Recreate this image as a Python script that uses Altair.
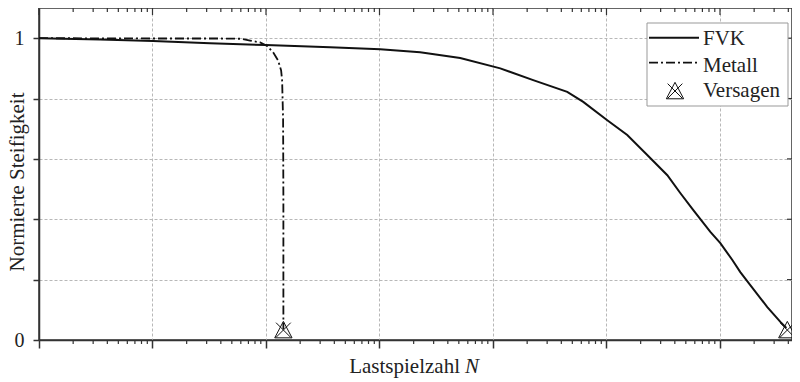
import altair as alt
import pandas as pd

# ---------------- data ----------------
fvk_n = [1, 3.45, 10.1, 32.1, 100, 367, 1014, 2280, 5140, 11590, 22600, 45100,
         62400, 101600, 152400, 228600, 343600, 446700, 582100, 822400, 1007000,
         1285000, 1510000, 1849000, 2612000, 3404000, 3846000]
fvk_v = [1.0, 0.996, 0.991, 0.983, 0.977, 0.970, 0.963, 0.953, 0.934, 0.900,
         0.861, 0.822, 0.789, 0.728, 0.679, 0.613, 0.546, 0.487, 0.430, 0.358,
         0.321, 0.265, 0.225, 0.182, 0.109, 0.060, 0.040]

met_n = [1, 9.5, 39.4, 60, 72.4, 88.7, 102.3, 115.6, 127.9, 135.9, 138.7,
         141.5, 142.3, 142.3]
met_v = [1.0, 0.999, 0.999, 0.998, 0.992, 0.986, 0.974, 0.953, 0.926, 0.893,
         0.860, 0.728, 0.463, 0.036]

fail_n = [142.3, 3920000]
fail_v = [0.033, 0.033]

x_max = 4.31e6
major_ticks = [1, 10, 100, 1000, 10000, 100000, 1000000]
minor_ticks = [k * d for d in major_ticks for k in range(2, 10) if k * d < x_max]
y_ticks = [0, 0.2, 0.4, 0.6, 0.8, 1.0]
legend_labels = ["FVK", "Metall", "Versagen"]
x_title = "Lastspielzahl"
x_title_var = "N"
y_title = "Normierte Steifigkeit"

# ---------------- layout ----------------
W, H = 753, 332
FONT = "Liberation Serif"
INK = "#111111"
FRAME = "#333333"
GRID = "#b8b8b8"

xscale = alt.Scale(type="log", domain=[1, x_max], nice=False)
yscale = alt.Scale(domain=[0, 1.1], nice=False)

x_axis = alt.Axis(values=major_ticks, grid=True, gridDash=[3, 2], gridColor=GRID,
                  gridWidth=1, labels=False, title=None, tickSize=8,
                  tickColor=FRAME, tickWidth=1.5, domainColor=FRAME, domainWidth=1.5)
y_axis = alt.Axis(values=y_ticks, grid=True, gridDash=[3, 2], gridColor=GRID,
                  gridWidth=1, title=None, tickSize=6, tickColor=FRAME,
                  tickWidth=1.5, domainColor=FRAME, domainWidth=1.5,
                  labelExpr="datum.value == 0 ? '0' : (datum.value == 1 ? '1' : '')",
                  labelFont=FONT, labelFontSize=20, labelColor="#222222",
                  labelPadding=9)

X = alt.X("n:Q", scale=xscale, axis=x_axis)
Y = alt.Y("v:Q", scale=yscale, axis=y_axis)

fvk_df = pd.DataFrame({"n": fvk_n, "v": fvk_v, "i": list(range(len(fvk_n)))})
met_df = pd.DataFrame({"n": met_n, "v": met_v, "i": list(range(len(met_n)))})
fail_df = pd.DataFrame({"n": fail_n, "v": fail_v})
major_df = pd.DataFrame({"n": major_ticks})
minor_df = pd.DataFrame({"n": minor_ticks})
yt_df = pd.DataFrame({"v": y_ticks[1:]})
one = pd.DataFrame({"a": [0]})

TRI = "M0,-1L1,0.9L-1,0.9Z"
XS = "M-0.85,-0.85L0.85,0.85M0.85,-0.85L-0.85,0.85"

fvk = alt.Chart(fvk_df).mark_line(color=INK, strokeWidth=2).encode(X, Y, order="i:Q")
met = alt.Chart(met_df).mark_line(color=INK, strokeWidth=1.8,
                                  strokeDash=[9, 3, 2, 3]).encode(X, Y, order="i:Q")
tri = alt.Chart(fail_df).mark_point(shape=TRI, size=300, filled=False, color=INK,
                                    strokeWidth=1, opacity=1).encode(X, Y)
xm = alt.Chart(fail_df).mark_point(shape=XS, size=300, filled=False, color=INK,
                                   strokeWidth=1, opacity=1).encode(X, Y)

bot_minor = alt.Chart(minor_df).mark_rule(color=FRAME, strokeWidth=1.2).encode(
    x=X, y=alt.value(H), y2=alt.value(H + 4))
top_major = alt.Chart(major_df).mark_rule(color=FRAME, strokeWidth=1.2).encode(
    x=X, y=alt.value(0), y2=alt.value(7))
top_minor = alt.Chart(minor_df).mark_rule(color=FRAME, strokeWidth=1.2).encode(
    x=X, y=alt.value(0), y2=alt.value(4))
right_ticks = alt.Chart(yt_df).mark_rule(color=FRAME, strokeWidth=1.2).encode(
    y=Y, x=alt.value(W), x2=alt.value(W - 5))

# legend
box = alt.Chart(one).mark_rect(fill="white", stroke="#999999", strokeWidth=1).encode(
    x=alt.value(608), x2=alt.value(749), y=alt.value(15), y2=alt.value(98))
leg_fvk = alt.Chart(one).mark_rule(color=INK, strokeWidth=2).encode(
    x=alt.value(610), x2=alt.value(660), y=alt.value(29.7))
leg_met = alt.Chart(one).mark_rule(color=INK, strokeWidth=1.8, strokeDash=[9, 3, 2, 3]).encode(
    x=alt.value(610), x2=alt.value(660), y=alt.value(54.7))
leg_tri = alt.Chart(one).mark_point(shape=TRI, size=300, filled=False, color=INK,
                                    strokeWidth=1, opacity=1).encode(
    x=alt.value(636), y=alt.value(83))
leg_x = alt.Chart(one).mark_point(shape=XS, size=300, filled=False, color=INK,
                                  strokeWidth=1, opacity=1).encode(
    x=alt.value(636), y=alt.value(83))
leg_texts = []
for lab, yy in zip(legend_labels, [37, 63.5, 89]):
    leg_texts.append(alt.Chart(one).mark_text(
        text=lab, align="left", baseline="alphabetic", font=FONT, fontSize=21,
        color="#222222").encode(x=alt.value(664), y=alt.value(yy)))

# titles
xt1 = alt.Chart(one).mark_text(text=x_title, align="right", baseline="alphabetic",
                               font=FONT, fontSize=21, color="#222222").encode(
    x=alt.value(421), y=alt.value(365))
xt2 = alt.Chart(one).mark_text(text=x_title_var, align="left", baseline="alphabetic",
                               font=FONT, fontSize=21, fontStyle="italic",
                               color="#222222").encode(
    x=alt.value(426), y=alt.value(365))
yt = alt.Chart(one).mark_text(text=y_title, align="center", baseline="alphabetic",
                              angle=270, font=FONT, fontSize=21,
                              color="#222222").encode(
    x=alt.value(-15), y=alt.value(174))

chart = alt.layer(
    bot_minor, top_major, top_minor, right_ticks,
    fvk, met, tri, xm,
    box, leg_fvk, leg_met, leg_tri, leg_x, *leg_texts,
    xt1, xt2, yt,
).properties(
    width=W, height=H,
    padding={"left": 31, "top": 0, "right": 0, "bottom": 38},
    autosize=alt.AutoSizeParams(type="none"),
).configure_view(stroke=FRAME, strokeWidth=1.5)

chart.save("out.html", embed_options={"renderer": "svg", "actions": False})
